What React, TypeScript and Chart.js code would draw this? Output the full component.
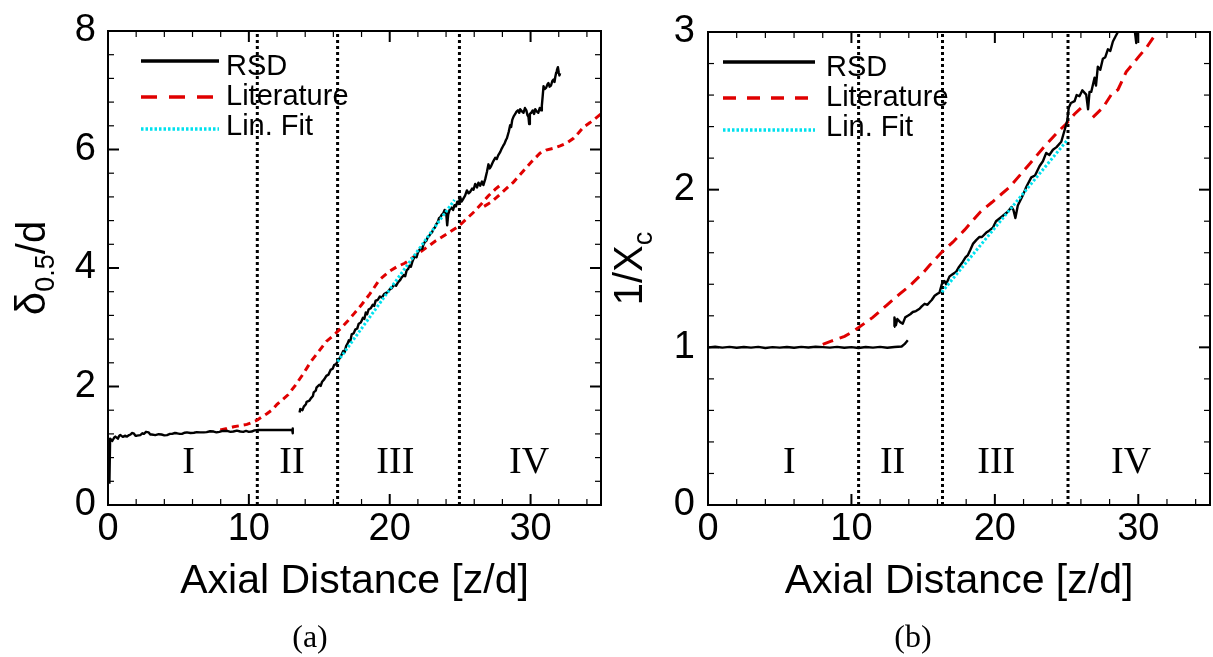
import React, { useEffect, useRef } from "react";
import { Chart, registerables } from "chart.js";

Chart.register(...registerables);

const SANS = '"Liberation Sans", Arial, Helvetica, sans-serif';
const SERIF = '"Liberation Serif", "Times New Roman", serif';
const RED = "#e00000";
const CYAN = "#00e1ee";

// ---------- shared ----------
const xMax = 35;
const xStep = 10;
const xMinorStep = 2;
const zoneNames = ["I", "II", "III", "IV"];
const legendNames = ["RSD", "Literature", "Lin. Fit"];
const xTitle = "Axial Distance [z/d]";

// ---------- panel (a): delta_0.5 / d ----------
const rsdA: [number, number | null][] = [
  [0.10, 0.36], [0.15, 1.12], [0.30, 1.08], [0.45, 1.14], [0.52, 1.155], [0.70, 1.12], [0.80, 1.17], [0.87, 1.18],
  [1.05, 1.15], [1.20, 1.17], [1.35, 1.155], [1.50, 1.18], [1.60, 1.19], [1.70, 1.215], [1.82, 1.21], [1.95, 1.17],
  [2.05, 1.17], [2.29, 1.18], [2.45, 1.21], [2.55, 1.20], [2.70, 1.235], [2.88, 1.226], [3.00, 1.19], [3.10, 1.19],
  [3.36, 1.18], [3.60, 1.195], [3.80, 1.19], [4.00, 1.175], [4.19, 1.18], [4.40, 1.20], [4.55, 1.20], [4.75, 1.215],
  [4.90, 1.21], [5.10, 1.20], [5.25, 1.20], [5.45, 1.22], [5.60, 1.226], [5.85, 1.215], [6.10, 1.22], [6.30, 1.23],
  [6.55, 1.226], [6.80, 1.225], [7.00, 1.23], [7.25, 1.245], [7.50, 1.24], [7.70, 1.225], [7.90, 1.235], [8.15, 1.25],
  [8.45, 1.25], [8.70, 1.235], [8.90, 1.24], [9.15, 1.255], [9.39, 1.24], [9.60, 1.235], [9.80, 1.25], [10.00, 1.235],
  [10.20, 1.24], [10.40, 1.26], [10.69, 1.265], [11.20, 1.265], [11.75, 1.265], [12.40, 1.265], [13.08, 1.265],
  [13.10, 1.29], [13.12, 1.21], [13.13, 1.265],
  [13.30, null],
  [13.60, 1.56], [13.65, 1.62], [13.80, 1.60], [13.90, 1.66], [14.05, 1.70], [14.10, 1.74], [14.30, 1.76], [14.40, 1.80],
  [14.55, 1.84], [14.60, 1.90], [14.75, 1.93], [14.80, 1.98], [15.00, 2.03], [15.10, 2.01], [15.20, 2.08], [15.35, 2.12],
  [15.50, 2.18], [15.65, 2.20], [15.80, 2.28], [15.95, 2.30], [16.05, 2.36], [16.20, 2.38], [16.30, 2.42], [16.45, 2.48],
  [16.55, 2.52], [16.70, 2.60], [16.80, 2.58], [16.90, 2.68], [17.00, 2.72], [17.10, 2.78], [17.20, 2.76], [17.30, 2.88],
  [17.45, 2.90], [17.55, 2.96], [17.70, 2.98], [17.80, 3.06], [17.95, 3.08], [18.10, 3.16], [18.20, 3.14], [18.30, 3.25],
  [18.40, 3.22], [18.50, 3.30], [18.65, 3.32], [18.80, 3.38], [18.90, 3.36], [19.00, 3.45], [19.15, 3.46], [19.30, 3.52],
  [19.45, 3.50], [19.60, 3.56], [19.75, 3.58], [19.90, 3.60], [20.00, 3.64], [20.15, 3.66], [20.30, 3.72], [20.45, 3.70],
  [20.60, 3.76], [20.75, 3.80], [20.85, 3.84], [21.00, 3.88], [21.10, 3.86], [21.20, 3.96], [21.30, 3.98], [21.40, 4.04],
  [21.50, 4.02], [21.60, 4.10], [21.70, 4.16], [21.80, 4.20], [21.90, 4.18], [22.00, 4.26], [22.10, 4.30], [22.20, 4.34],
  [22.30, 4.32], [22.40, 4.40], [22.50, 4.44], [22.60, 4.46], [22.70, 4.52], [22.80, 4.54], [22.90, 4.58], [23.00, 4.60],
  [23.10, 4.66], [23.20, 4.68], [23.30, 4.74], [23.40, 4.77], [23.50, 4.84], [23.60, 4.86], [23.70, 4.90], [23.80, 4.92],
  [23.90, 4.98], [24.00, 4.96], [24.08, 4.72], [24.15, 4.90], [24.25, 4.98], [24.40, 5.02], [24.50, 4.98], [24.60, 5.06],
  [24.70, 5.04], [24.80, 5.12], [24.90, 5.08], [25.00, 5.20], [25.10, 5.12], [25.20, 5.16], [25.35, 5.22], [25.48, 5.31],
  [25.60, 5.26], [25.70, 5.28], [25.85, 5.34], [25.95, 5.32], [26.07, 5.42], [26.20, 5.36], [26.30, 5.44], [26.42, 5.39],
  [26.55, 5.46], [26.65, 5.40], [26.78, 5.50], [26.90, 5.62], [27.01, 5.75], [27.10, 5.68], [27.20, 5.72], [27.35, 5.80],
  [27.49, 5.86], [27.60, 5.84], [27.70, 5.90], [27.85, 5.96], [27.96, 6.02], [28.05, 6.06], [28.15, 6.10], [28.25, 6.16],
  [28.32, 6.19], [28.45, 6.30], [28.55, 6.41], [28.62, 6.38], [28.70, 6.50], [28.80, 6.56], [28.91, 6.60], [29.00, 6.64],
  [29.10, 6.66], [29.20, 6.62], [29.26, 6.68], [29.40, 6.64], [29.50, 6.62], [29.60, 6.70], [29.70, 6.66], [29.78, 6.58],
  [29.85, 6.55], [29.90, 6.43], [29.95, 6.60], [30.05, 6.62], [30.15, 6.66], [30.25, 6.60], [30.33, 6.68], [30.45, 6.64],
  [30.55, 6.62], [30.65, 6.70], [30.75, 6.66], [30.80, 6.74], [30.86, 6.90], [30.92, 7.07], [31.00, 7.02], [31.10, 7.04],
  [31.20, 7.10], [31.27, 7.12], [31.35, 7.06], [31.45, 7.08], [31.55, 7.16], [31.63, 7.18], [31.70, 7.14], [31.75, 7.22],
  [31.82, 7.30], [31.87, 7.34], [31.94, 7.39], [32.00, 7.30], [32.05, 7.25], [32.10, 7.29],
];

const literatureA: [number, number | null][] = [
  [7.97, 1.265], [8.45, 1.29], [8.92, 1.32], [9.40, 1.34], [9.86, 1.36], [10.20, 1.39], [10.57, 1.43], [10.95, 1.49],
  [11.28, 1.54], [11.68, 1.61], [12.00, 1.70], [12.40, 1.78], [12.78, 1.86], [13.30, 2.02], [13.88, 2.22], [14.40, 2.42],
  [14.99, 2.60], [15.50, 2.76], [16.09, 2.88], [16.60, 3.00], [17.00, 3.10], [17.47, 3.23], [18.00, 3.38], [18.58, 3.56],
  [19.27, 3.80], [19.96, 3.94], [20.50, 4.02], [21.06, 4.08], [21.60, 4.17], [22.16, 4.27], [22.70, 4.36], [23.27, 4.46],
  [24.10, 4.58], [24.92, 4.71], [25.50, 4.84], [26.00, 4.95], [26.50, 5.08], [27.01, 5.22], [27.50, 5.33], [27.96, 5.42],
  [28.20, null],
  [26.70, 5.04], [27.25, 5.12], [28.00, 5.28], [28.79, 5.45], [29.50, 5.64], [30.10, 5.80], [30.68, 5.94], [31.10, 5.99],
  [31.63, 6.02], [32.10, 6.06], [32.57, 6.11], [33.05, 6.19], [33.40, 6.28], [33.76, 6.38], [34.20, 6.45], [34.58, 6.52],
  [35.00, 6.60],
];

const linFitA: [number, number][] = [[16.3, 2.42], [24.6, 5.15]];
const zoneBoundsA = [10.6, 16.3, 24.95];
const zoneLabelXA = [5.72, 13.06, 20.4, 29.9];

// ---------- panel (b): 1 / X_c ----------
const rsdB: [number, number | null][] = [
  [0.05, 1.0], [0.5, 1.004], [1.0, 0.998], [1.5, 1.003], [2.0, 0.997], [2.5, 1.002], [3.0, 0.998], [3.5, 1.003],
  [4.0, 0.996], [4.5, 1.001], [5.0, 0.998], [5.5, 1.002], [6.0, 0.997], [6.5, 1.003], [7.0, 0.999], [7.5, 1.004],
  [8.0, 1.001], [8.5, 0.998], [9.0, 1.003], [9.5, 0.997], [10.0, 1.001], [10.5, 0.996], [11.0, 1.002], [11.5, 0.998],
  [12.0, 1.003], [12.5, 0.997], [13.0, 1.002], [13.5, 1.005], [13.7, 1.02], [13.93, 1.045],
  [14.0, null],
  [12.97, 1.13], [13.0, 1.19], [13.1, 1.14], [13.2, 1.18], [13.4, 1.16], [13.58, 1.15], [13.75, 1.19], [13.93, 1.20],
  [14.1, 1.21], [14.28, 1.224], [14.5, 1.23], [14.75, 1.245], [14.9, 1.26], [15.1, 1.276], [15.3, 1.27], [15.45, 1.286],
  [15.6, 1.30], [15.8, 1.327], [16.0, 1.34], [16.14, 1.347], [16.3, 1.40], [16.49, 1.42], [16.6, 1.40], [16.84, 1.45],
  [17.0, 1.46], [17.31, 1.48], [17.5, 1.51], [17.77, 1.543], [17.95, 1.57], [18.12, 1.585], [18.3, 1.62], [18.47, 1.656],
  [18.7, 1.68], [18.93, 1.70], [19.1, 1.70], [19.4, 1.728], [19.6, 1.74], [19.86, 1.759], [20.08, 1.80], [20.5, 1.83],
  [20.9, 1.86], [21.16, 1.89], [21.3, 1.87], [21.43, 1.82], [21.6, 1.90], [21.98, 1.97], [22.19, 2.017], [22.54, 2.078],
  [22.8, 2.09], [23.12, 2.15], [23.35, 2.18], [23.58, 2.233], [23.8, 2.22], [24.05, 2.253], [24.3, 2.27], [24.63, 2.304],
  [24.86, 2.377], [25.05, 2.438], [25.15, 2.52], [25.3, 2.55], [25.56, 2.562], [25.7, 2.60], [25.9, 2.593], [26.1, 2.63],
  [26.37, 2.603], [26.5, 2.51], [26.6, 2.62], [26.72, 2.62], [26.95, 2.71], [27.05, 2.66], [27.18, 2.78], [27.35, 2.76],
  [27.53, 2.83], [27.7, 2.84], [27.88, 2.89], [28.05, 2.88], [28.23, 2.94], [28.4, 2.97], [28.58, 3.0], [28.9, 3.08],
  [29.5, 3.12], [29.7, 3.05], [29.86, 2.93], [29.95, 3.05], [30.2, 3.15],
];

const literatureB: [number, number | null][] = [
  [8.0, 1.019], [8.59, 1.039], [9.52, 1.07], [10.1, 1.10], [11.03, 1.16], [11.49, 1.19], [12.43, 1.265], [13.35, 1.337],
  [14.05, 1.389], [14.98, 1.471], [15.45, 1.52], [16.26, 1.60], [17.07, 1.667], [17.89, 1.745], [19.0, 1.86], [19.8, 1.92],
  [21.03, 2.017], [22.3, 2.15], [23.35, 2.263], [24.39, 2.366], [24.98, 2.418], [25.56, 2.48], [26.14, 2.53],
  [26.5, null],
  [26.83, 2.459], [27.53, 2.52], [28.12, 2.603], [28.58, 2.634], [29.16, 2.747], [30.09, 2.85], [30.56, 2.9],
  [31.14, 2.977], [31.3, 3.0],
];

const linFitB: [number, number][] = [[16.3, 1.35], [25.1, 2.32]];
const zoneBoundsB = [10.5, 16.35, 25.1];
const zoneLabelXB = [5.67, 12.87, 20.1, 29.5];

// ---------- config ----------
type TitlePart = { text: string; size: number; dy: number };
type PanelCfg = {
  left: number; width: number; height: number;
  yAxisWidth: number; padRight: number; padTop: number; xAxisHeight: number;
  yMax: number; yStep: number; yMinorStep: number; yTickPad: number;
  rsd: [number, number | null][]; lit: [number, number | null][]; fit: [number, number][];
  bounds: number[]; zoneX: number[]; zoneY: number;
  litDash: number[]; litLegendDash: number[];
  legendX0: number; legendX1: number; legendTextX: number;
  yTitle: TitlePart[]; yTitleX: number;
};

const panelA: PanelCfg = {
  left: 0, width: 606, height: 657,
  yAxisWidth: 108, padRight: 5, padTop: 20, xAxisHeight: 152,
  yMax: 8, yStep: 2, yMinorStep: 0.4, yTickPad: 12,
  rsd: rsdA, lit: literatureA, fit: linFitA,
  bounds: zoneBoundsA, zoneX: zoneLabelXA, zoneY: 0.54,
  litDash: [7, 5], litLegendDash: [16, 12],
  legendX0: 33, legendX1: 111, legendTextX: 118,
  yTitle: [{ text: "δ", size: 42, dy: 0 }, { text: "0.5", size: 27, dy: 9 }, { text: "/d", size: 40, dy: 0 }],
  yTitleX: 45,
};

const panelB: PanelCfg = {
  left: 606, width: 607, height: 657,
  yAxisWidth: 102, padRight: 3, padTop: 19, xAxisHeight: 152,
  yMax: 3, yStep: 1, yMinorStep: 0.2, yTickPad: 13,
  rsd: rsdB, lit: literatureB, fit: linFitB,
  bounds: zoneBoundsB, zoneX: zoneLabelXB, zoneY: 0.204,
  litDash: [11, 7], litLegendDash: [13, 11],
  legendX0: 15, legendX1: 107, legendTextX: 118,
  yTitle: [{ text: "1/X", size: 40, dy: 0 }, { text: "c", size: 27, dy: 10 }],
  yTitleX: 36,
};

const toXY = (arr: [number, number | null][]) => arr.map(([x, y]) => ({ x, y }));

function makeDecor(cfg: PanelCfg) {
  return {
    id: "panelDecor",
    afterDatasetsDraw(chart: any) {
      const { ctx, chartArea: ca } = chart;
      const xs = chart.scales.x;
      const ys = chart.scales.y;
      ctx.save();
      ctx.setLineDash([]);
      ctx.fillStyle = "#000";
      ctx.strokeStyle = "#000";

      // zone labels
      ctx.font = `38px ${SERIF}`;
      ctx.textAlign = "center";
      ctx.textBaseline = "alphabetic";
      cfg.zoneX.forEach((zx, i) => {
        ctx.fillText(zoneNames[i], xs.getPixelForValue(zx), ys.getPixelForValue(cfg.zoneY));
      });

      // ticks (inside, all four sides)
      const line = (x1: number, y1: number, x2: number, y2: number, w: number) => {
        ctx.lineWidth = w;
        ctx.beginPath();
        ctx.moveTo(x1, y1);
        ctx.lineTo(x2, y2);
        ctx.stroke();
      };
      const isMajor = (v: number, step: number) => Math.abs(v / step - Math.round(v / step)) < 1e-6;
      const nx = Math.round(xMax / xMinorStep);
      for (let i = 1; i <= nx; i++) {
        const v = i * xMinorStep;
        const major = isMajor(v, xStep);
        const len = major ? 11 : 6;
        const w = major ? 2 : 1.2;
        const px = xs.getPixelForValue(v);
        line(px, ca.bottom, px, ca.bottom - len, w);
        line(px, ca.top, px, ca.top + len, w);
      }
      const ny = Math.round(cfg.yMax / cfg.yMinorStep);
      for (let i = 1; i < ny; i++) {
        const v = i * cfg.yMinorStep;
        const major = isMajor(v, cfg.yStep);
        const len = major ? 11 : 6;
        const w = major ? 2 : 1.2;
        const py = ys.getPixelForValue(v);
        line(ca.left, py, ca.left + len, py, w);
        line(ca.right, py, ca.right - len, py, w);
      }

      // frame
      ctx.lineWidth = 2;
      ctx.strokeRect(ca.left, ca.top, ca.right - ca.left, ca.bottom - ca.top);

      // legend
      const lineY = [30, 66, 98];
      const textY = [44, 74, 104];
      const dashes = [[], cfg.litLegendDash, [2.5, 2]];
      const datasets = chart.data.datasets;
      for (let i = 0; i < 3; i++) {
        ctx.strokeStyle = datasets[i].borderColor;
        ctx.setLineDash(dashes[i]);
        line(ca.left + cfg.legendX0, ca.top + lineY[i], ca.left + cfg.legendX1, ca.top + lineY[i], 3.5);
        ctx.setLineDash([]);
        ctx.fillStyle = "#000";
        ctx.font = `29px ${SANS}`;
        ctx.textAlign = "left";
        ctx.textBaseline = "alphabetic";
        ctx.fillText(legendNames[i], ca.left + cfg.legendTextX, ca.top + textY[i]);
      }

      // x title
      ctx.font = `41px ${SANS}`;
      ctx.textAlign = "center";
      ctx.textBaseline = "alphabetic";
      ctx.fillText(xTitle, (ca.left + ca.right) / 2, 593);

      // y title (rotated, with subscript)
      ctx.save();
      ctx.translate(cfg.yTitleX, (ca.top + ca.bottom) / 2);
      ctx.rotate(-Math.PI / 2);
      let total = 0;
      cfg.yTitle.forEach((p) => {
        ctx.font = `${p.size}px ${SANS}`;
        total += ctx.measureText(p.text).width;
      });
      let tx = -total / 2;
      ctx.textAlign = "left";
      cfg.yTitle.forEach((p) => {
        ctx.font = `${p.size}px ${SANS}`;
        ctx.fillText(p.text, tx, p.dy);
        tx += ctx.measureText(p.text).width;
      });
      ctx.restore();

      ctx.restore();
    },
  };
}

function Panel({ cfg }: { cfg: PanelCfg }) {
  const ref = useRef<HTMLCanvasElement | null>(null);
  useEffect(() => {
    if (!ref.current) return;
    const tickFont = { family: SANS, size: 38, lineHeight: 1 };
    const datasets: any[] = [
      { label: legendNames[0], data: toXY(cfg.rsd), borderColor: "#000000", borderWidth: 2.4, order: 1, borderJoinStyle: "round" },
      { label: legendNames[1], data: toXY(cfg.lit), borderColor: RED, borderWidth: 3, borderDash: cfg.litDash, order: 2 },
      { label: legendNames[2], data: toXY(cfg.fit), borderColor: CYAN, borderWidth: 3, borderDash: [2.5, 2], order: 0 },
      ...cfg.bounds.map((b) => ({
        label: "",
        data: [{ x: b, y: 0 }, { x: b, y: cfg.yMax }],
        borderColor: "#000000",
        borderWidth: 3,
        borderDash: [3, 3],
        order: 3,
      })),
    ];
    const chart = new Chart(ref.current, {
      type: "line",
      data: { datasets },
      options: {
        responsive: false,
        animation: false,
        devicePixelRatio: 1,
        events: [],
        spanGaps: false,
        elements: { point: { radius: 0 }, line: { tension: 0 } },
        layout: { padding: { left: 0, right: cfg.padRight, top: cfg.padTop, bottom: 0 } },
        plugins: { legend: { display: false }, tooltip: { enabled: false } },
        scales: {
          x: {
            type: "linear",
            min: 0,
            max: xMax,
            ticks: { stepSize: xStep, includeBounds: false, font: tickFont, color: "#000", padding: 6, maxRotation: 0, autoSkip: false },
            grid: { display: false, drawTicks: false },
            border: { display: false },
            afterFit: (s: any) => { s.height = cfg.xAxisHeight; },
          },
          y: {
            type: "linear",
            min: 0,
            max: cfg.yMax,
            ticks: { stepSize: cfg.yStep, font: tickFont, color: "#000", padding: cfg.yTickPad },
            grid: { display: false, drawTicks: false },
            border: { display: false },
            afterFit: (s: any) => { s.width = cfg.yAxisWidth; },
          },
        },
      } as any,
      plugins: [makeDecor(cfg)],
    });
    return () => chart.destroy();
  }, [cfg]);
  return (
    <canvas
      ref={ref}
      width={cfg.width}
      height={cfg.height}
      style={{ position: "absolute", left: cfg.left, top: 0, width: cfg.width, height: cfg.height }}
    />
  );
}

const captionStyle = (cx: number): React.CSSProperties => ({
  position: "absolute",
  left: cx,
  top: 636,
  transform: "translate(-50%, -50%)",
  fontFamily: SERIF,
  fontSize: 32,
  lineHeight: 1,
  color: "#000",
  whiteSpace: "nowrap",
});

export default function App() {
  return (
    <div style={{ position: "fixed", left: 0, top: 0, width: 1213, height: 657, background: "#fff", overflow: "hidden" }}>
      <Panel cfg={panelA} />
      <Panel cfg={panelB} />
      <div style={captionStyle(310)}>(a)</div>
      <div style={captionStyle(913)}>(b)</div>
    </div>
  );
}
